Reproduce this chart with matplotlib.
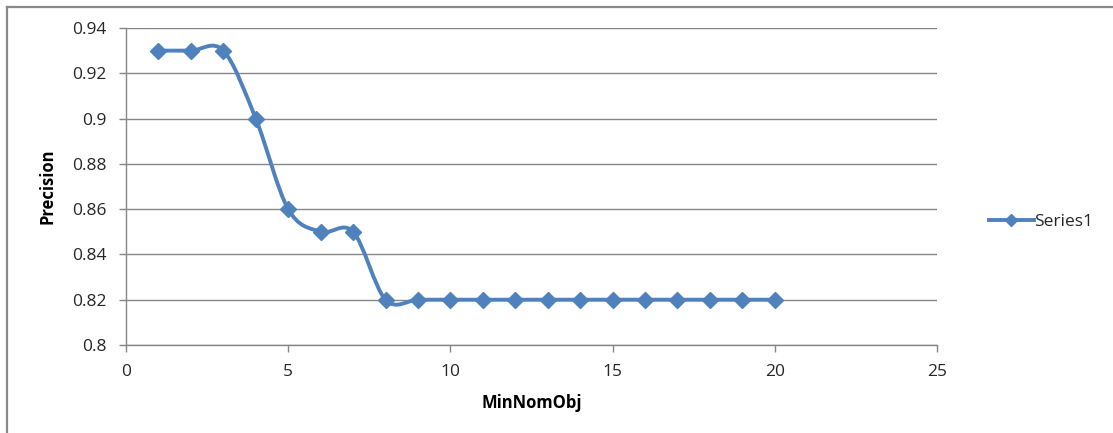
import numpy as np
import matplotlib
matplotlib.use("Agg")
import matplotlib.pyplot as plt
from matplotlib.path import Path
from matplotlib.patches import PathPatch
from matplotlib.lines import Line2D

x_values = list(range(1, 21))
precision = [0.93, 0.93, 0.93, 0.90, 0.86, 0.85, 0.85, 0.82, 0.82, 0.82,
             0.82, 0.82, 0.82, 0.82, 0.82, 0.82, 0.82, 0.82, 0.82, 0.82]
x_ticks = [0, 5, 10, 15, 20, 25]
y_ticks = [0.8, 0.82, 0.84, 0.86, 0.88, 0.9, 0.92, 0.94]
y_tick_labels = ["0.8", "0.82", "0.84", "0.86", "0.88", "0.9", "0.92", "0.94"]
series_name = "Series1"

blue = "#4F81BD"
grid_gray = "#868686"
text_col = "#262626"

plt.rcParams['font.family'] = ['Open Sans', 'DejaVu Sans']


def smooth_path(xs, ys, t=1/6):
    # excel style smoothed line: cubic bezier through every point
    pts = np.column_stack([xs, ys]).astype(float)
    n = len(pts)
    verts = [pts[0]]
    codes = [Path.MOVETO]
    for i in range(n - 1):
        p0 = pts[i - 1] if i > 0 else pts[i]
        p1 = pts[i]
        p2 = pts[i + 1]
        p3 = pts[i + 2] if i + 2 < n else pts[i + 1]
        c1 = p1 + (p2 - p0) * t
        c2 = p2 - (p3 - p1) * t
        verts += [c1, c2, p2]
        codes += [Path.CURVE4] * 3
    return Path(verts, codes)


fig = plt.figure(figsize=(11.13, 4.33), dpi=100)
ax = fig.add_axes([126/1113, 1 - 345/433, (937 - 126)/1113, (345 - 28)/433])

ax.add_patch(PathPatch(smooth_path(x_values, precision), facecolor='none',
                       edgecolor=blue, lw=2.8, capstyle='round', zorder=3))
ax.plot(x_values, precision, linestyle='none', marker='D', markersize=8.3,
        color=blue, zorder=4)

ax.set_xlim(0, 25)
ax.set_ylim(0.8, 0.94)
ax.set_xticks(x_ticks)
ax.set_yticks(y_ticks)
ax.set_yticklabels(y_tick_labels)
ax.tick_params(labelsize=12.5, length=5, width=1, colors=grid_gray, labelcolor=text_col)
ax.tick_params(axis='x', pad=9)
ax.tick_params(axis='y', pad=9)
ax.yaxis.grid(True, color=grid_gray, lw=1)
ax.set_axisbelow(True)
for s in ['top', 'right']:
    ax.spines[s].set_visible(False)
for s in ['left', 'bottom']:
    ax.spines[s].set_color(grid_gray)
    ax.spines[s].set_linewidth(1)

ax.set_xlabel("MinNomObj", fontsize=12, fontweight='bold', labelpad=10, color='black')
ax.set_ylabel("Precision", fontsize=12, fontweight='bold', labelpad=11, color='black')

handle = Line2D([], [], color=blue, lw=2.8, marker='D', markersize=6)
fig.legend([handle], [series_name], loc='center left',
           bbox_to_anchor=(973/1113, 1 - 222/433), frameon=False,
           fontsize=12.5, handlelength=2.6, handletextpad=0.0, labelcolor=text_col)

# outer chart border (only left and top visible in the crop)
fig.add_artist(Line2D([7/1113, 7/1113], [0, 1 - 7/433], transform=fig.transFigure,
                      color='#898989', lw=1.6))
fig.add_artist(Line2D([7/1113, 1], [1 - 7/433, 1 - 7/433], transform=fig.transFigure,
                      color='#898989', lw=1.6))

fig.savefig("out.png", dpi=100)
